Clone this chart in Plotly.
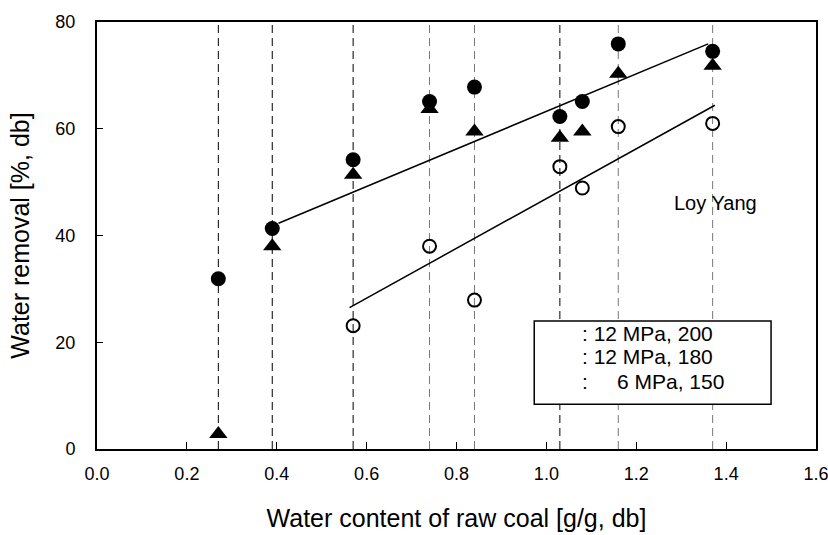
import plotly.graph_objects as go

# Water content of raw coal [g/g, db]
x_vals = [0.27, 0.39, 0.57, 0.74, 0.84, 1.03, 1.08, 1.16, 1.37]
# Water removal [%, db]
filled_circle = [31.9, 41.3, 54.2, 65.1, 67.8, 62.3, 65.1, 75.9, 74.5]
filled_triangle = [2.8, 38.0, 51.4, 63.7, 59.5, 58.3, 59.5, 70.3, 71.8]
open_x = [0.57, 0.74, 0.84, 1.03, 1.08, 1.16, 1.37]
open_circle = [23.1, 38.0, 27.9, 52.9, 48.9, 60.4, 61.0]

# vertical guide lines (coal samples)
guide_x = [0.27, 0.39, 0.57, 0.74, 0.84, 1.03, 1.16, 1.37]
guide_color = ["#000000", "#000000", "#000000", "#777777", "#777777", "#000000", "#777777", "#777777"]

# trend lines (end points)
fit_upper_x = [0.404, 1.360]
fit_upper_y = [42.3, 75.9]
fit_lower_x = [0.562, 1.375]
fit_lower_y = [26.5, 64.4]

legend_lines = [": 12 MPa, 200", ": 12 MPa, 180", ":\u00a0\u00a0\u00a0\u00a0\u00a06 MPa, 150"]

x_ticks = [0.0, 0.2, 0.4, 0.6, 0.8, 1.0, 1.2, 1.4, 1.6]
y_ticks = [0, 20, 40, 60, 80]

FONT = "Liberation Sans, Arial, sans-serif"

fig = go.Figure()

# guide lines
for gx, gc in zip(guide_x, guide_color):
    fig.add_trace(go.Scatter(x=[gx, gx], y=[0, 80], mode="lines",
                             line=dict(color=gc, width=1, dash="8px,5px"),
                             hoverinfo="skip", showlegend=False))

# trend lines
fig.add_trace(go.Scatter(x=fit_upper_x, y=fit_upper_y, mode="lines",
                         line=dict(color="black", width=1.5), showlegend=False))
fig.add_trace(go.Scatter(x=fit_lower_x, y=fit_lower_y, mode="lines",
                         line=dict(color="black", width=1.5), showlegend=False))

# data points
fig.add_trace(go.Scatter(x=x_vals, y=filled_triangle, mode="markers",
                         marker=dict(symbol="triangle-up", size=16, color="black"),
                         name="12 MPa, 180", showlegend=False))
fig.add_trace(go.Scatter(x=x_vals, y=filled_circle, mode="markers",
                         marker=dict(symbol="circle", size=15, color="black"),
                         name="12 MPa, 200", showlegend=False))
fig.add_trace(go.Scatter(x=open_x, y=open_circle, mode="markers",
                         marker=dict(symbol="circle-open", size=13, color="black",
                                     line=dict(width=2, color="black")),
                         name="6 MPa, 150", showlegend=False))

# legend box
fig.add_shape(type="rect", xref="x", yref="y", x0=0.973, x1=1.50, y0=8.4, y1=24.0,
              line=dict(color="black", width=1.5), fillcolor="white", layer="above")

legend_y = [21.7, 17.4, 12.7]
for txt, ly in zip(legend_lines, legend_y):
    fig.add_annotation(x=1.075, y=ly, xref="x", yref="y", text=txt, showarrow=False,
                       xanchor="left", yanchor="middle",
                       font=dict(family=FONT, size=21, color="black"))

fig.add_annotation(x=1.377, y=46.0, xref="x", yref="y", text="Loy Yang", showarrow=False,
                   xanchor="center", yanchor="middle",
                   font=dict(family=FONT, size=20, color="black"))

fig.update_xaxes(range=[0, 1.6], tickvals=x_ticks, ticktext=[f"{v:.1f}" for v in x_ticks],
                 ticks="inside", ticklen=7, tickwidth=1, tickcolor="black",
                 showline=True, linewidth=2, linecolor="black", mirror=True,
                 showgrid=False, zeroline=False, ticklabelstandoff=7, automargin=False,
                 ticklabeloverflow="allow",
                 tickfont=dict(family=FONT, size=18, color="black"),
                 title=dict(text="Water content of raw coal [g/g, db]", standoff=27,
                            font=dict(family=FONT, size=25, color="black")))
fig.update_yaxes(range=[0, 80], tickvals=y_ticks,
                 ticks="inside", ticklen=6, tickwidth=1, tickcolor="black",
                 showline=True, linewidth=2, linecolor="black", mirror=True,
                 showgrid=False, zeroline=False, ticklabelstandoff=16, automargin=False,
                 tickfont=dict(family=FONT, size=18, color="black"),
                 title=dict(text="Water removal [%, db]", standoff=19,
                            font=dict(family=FONT, size=25, color="black")))

fig.update_layout(width=828, height=535, autosize=False,
                  margin=dict(l=97, r=12, t=22, b=86),
                  paper_bgcolor="white", plot_bgcolor="white",
                  showlegend=False)

fig.write_html("out.html", config={"displayModeBar": False},
               post_script="document.body.style.margin='0';document.body.style.overflow='hidden';")
